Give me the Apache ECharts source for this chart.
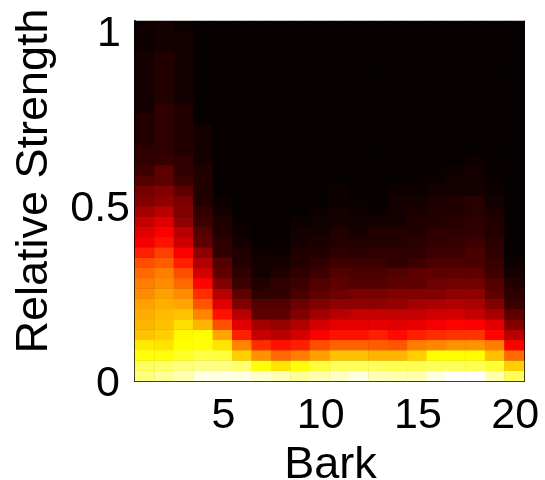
<!DOCTYPE html>
<html><head><meta charset="utf-8">
<style>html,body{margin:0;padding:0;background:#fff}#c{width:545px;height:480px}</style>
<script src="https://cdn.jsdelivr.net/npm/echarts@6/dist/echarts.min.js"></script>
</head><body><div id="c"></div>
<script>
// Each array: hot-colormap intensity for one Bark band, bottom row (strength 0) to top row (strength 1)
const bark1=[.87,.84,.76,.72,.66,.64,.63,.61,.58,.56,.53,.49,.42,.36,.33,.29,.24,.19,.17,.12,.09,.07,.07,.05,.05,.05,.03,.03,.03,.03,.03,.03,.02,.02,.02];
const bark2=[.9,.85,.76,.71,.68,.66,.65,.63,.61,.58,.56,.51,.47,.4,.37,.33,.27,.21,.19,.14,.14,.08,.07,.07,.07,.07,.07,.05,.05,.05,.05,.05,.03,.03,.03];
const bark3=[.92,.87,.79,.75,.74,.7,.66,.62,.58,.53,.49,.42,.37,.3,.27,.21,.19,.18,.14,.09,.07,.07,.05,.05,.05,.05,.05,.03,.03,.03,.03,.03,.03,.03,.015];
const bark4=[.97,.88,.82,.76,.75,.64,.57,.5,.44,.38,.31,.26,.21,.14,.12,.09,.07,.05,.05,.05,.05,.03,.03,.03,.03,.01,.01,.01,.01,.01,.01,.01,.01,.01,.01];
const bark5=[.97,.88,.81,.71,.62,.49,.4,.33,.27,.19,.14,.12,.07,.07,.05,.05,.03,.02,.01,.01,.01,.01,.01,.01,.01,.01,.01,.01,.01,.01,.01,.01,.01,.01,.01];
const bark6=[.97,.86,.68,.57,.42,.33,.27,.19,.14,.09,.07,.05,.05,.03,.02,.015,.01,.01,.01,.01,.01,.01,.01,.01,.01,.01,.01,.01,.01,.01,.01,.01,.01,.01,.01];
const bark7=[.95,.76,.59,.44,.29,.24,.14,.12,.07,.05,.03,.03,.02,.01,.01,.01,.01,.01,.01,.01,.01,.01,.01,.01,.01,.01,.01,.01,.01,.01,.01,.01,.01,.01,.01];
const bark8=[.93,.71,.53,.4,.27,.22,.14,.12,.07,.07,.05,.03,.02,.015,.01,.01,.01,.01,.01,.01,.01,.01,.01,.01,.01,.01,.01,.01,.01,.01,.01,.01,.01,.01,.01];
const bark9=[.9,.76,.56,.42,.31,.26,.19,.16,.11,.09,.07,.05,.05,.03,.03,.02,.01,.01,.01,.01,.01,.01,.01,.01,.01,.01,.01,.01,.01,.01,.01,.01,.01,.01,.01];
const bark10=[.92,.81,.61,.49,.37,.31,.24,.19,.14,.12,.09,.07,.05,.04,.03,.025,.02,.01,.01,.01,.01,.01,.01,.01,.01,.01,.01,.01,.01,.01,.01,.01,.01,.01,.01];
const bark11=[.94,.84,.66,.52,.4,.34,.27,.21,.16,.14,.12,.09,.07,.05,.05,.03,.03,.02,.02,.01,.01,.01,.01,.01,.01,.01,.01,.01,.01,.01,.01,.01,.01,.01,.01];
const bark12=[.97,.84,.66,.52,.4,.34,.29,.21,.18,.12,.11,.09,.06,.05,.03,.025,.02,.015,.01,.01,.01,.01,.01,.01,.01,.01,.01,.01,.01,.01,.01,.01,.01,.01,.01];
const bark13=[.93,.84,.64,.51,.42,.34,.29,.21,.18,.12,.11,.09,.07,.05,.05,.03,.015,.01,.01,.01,.01,.01,.01,.01,.01,.01,.01,.01,.01,.01,.01,.01,.01,.01,.01];
const bark14=[.92,.83,.64,.5,.39,.33,.29,.22,.19,.14,.12,.07,.07,.05,.05,.03,.03,.03,.02,.01,.01,.01,.01,.01,.01,.01,.01,.01,.01,.01,.01,.01,.01,.01,.01];
const bark15=[.92,.83,.68,.56,.42,.34,.29,.24,.19,.14,.14,.09,.07,.06,.05,.05,.04,.03,.02,.015,.01,.01,.01,.01,.01,.01,.01,.01,.01,.01,.01,.01,.01,.01,.01];
const bark16=[.97,.84,.75,.57,.44,.36,.31,.25,.19,.16,.14,.11,.09,.07,.07,.05,.05,.04,.03,.02,.015,.01,.01,.01,.01,.01,.01,.01,.01,.01,.01,.01,.01,.01,.01];
const bark17=[1,.84,.75,.59,.45,.38,.31,.26,.21,.17,.14,.11,.09,.08,.07,.06,.05,.05,.03,.03,.02,.01,.01,.01,.01,.01,.01,.01,.01,.01,.01,.01,.01,.01,.01];
const bark18=[1,.83,.75,.59,.45,.37,.29,.25,.21,.17,.14,.11,.11,.09,.07,.07,.06,.06,.03,.03,.03,.02,.01,.01,.01,.01,.01,.01,.01,.01,.01,.01,.01,.01,.01];
const bark19=[.92,.8,.66,.56,.38,.33,.25,.19,.14,.12,.09,.08,.07,.06,.05,.05,.04,.03,.02,.015,.01,.01,.01,.01,.01,.01,.01,.01,.01,.01,.01,.01,.01,.01,.01];
const bark20=[.84,.68,.53,.37,.27,.19,.14,.09,.07,.05,.03,.02,.01,.01,.01,.01,.01,.01,.01,.01,.01,.01,.01,.01,.01,.01,.01,.01,.01,.01,.01,.01,.01,.01,.01];
const bands=[bark1,bark2,bark3,bark4,bark5,bark6,bark7,bark8,bark9,bark10,bark11,bark12,bark13,bark14,bark15,bark16,bark17,bark18,bark19,bark20];
const barkLabels=['1','2','3','4','5','6','7','8','9','10','11','12','13','14','15','16','17','18','19','20'];
const strengthRows=bark1.map((_,i)=>i===0?'0':i===17?'0.5':i===34?'1':'');
const barkTicks=['5','10','15','20'];
const hot=['#000000','#550000','#aa0000','#ff0000','#ff5500','#ffaa00','#ffff00','#ffff80','#ffffff'];

const data=[];
bands.forEach((col,x)=>col.forEach((v,y)=>data.push([x,y,v])));
const font='"Liberation Sans", Arial, sans-serif';
const chart=echarts.init(document.getElementById('c'),null,{renderer:'canvas'});
const yStyle=(pr)=>({fontFamily:font,fontSize:43,color:'#000',padding:[0,pr,0,0]});
chart.setOption({
  animation:false,
  backgroundColor:'#fff',
  grid:{left:135,top:21,width:389,height:360,containLabel:false,outerBoundsMode:'none',show:true,backgroundColor:'#080000',borderWidth:0},
  visualMap:{show:false,min:0,max:1,dimension:2,seriesIndex:0,inRange:{color:hot}},
  xAxis:{type:'category',data:barkLabels,name:'Bark',nameLocation:'middle',nameGap:62,
    nameTextStyle:{fontFamily:font,fontSize:45,color:'#000',padding:[0,0,0,2]},
    axisLine:{show:true,onZero:false,lineStyle:{color:'#000',width:2}},
    axisTick:{show:true,inside:true,length:5,alignWithLabel:true,lineStyle:{color:'#000',width:1},interval:(i,v)=>barkTicks.includes(v)},
    axisLabel:{show:true,fontFamily:font,fontSize:43,color:'#000',margin:14,padding:[0,0,0,2],interval:(i,v)=>barkTicks.includes(v)},
    splitLine:{show:false}},
  yAxis:[{type:'category',data:strengthRows,name:'Relative Strength',nameLocation:'middle',nameGap:78,nameMoveOverlap:false,
    nameTextStyle:{fontFamily:font,fontSize:45,color:'#000',padding:[0,0,0,40]},
    axisLine:{show:true,onZero:false,lineStyle:{color:'#000',width:2}},
    axisTick:{show:true,inside:true,length:4,alignWithLabel:true,lineStyle:{color:'#000',width:1},interval:(i,v)=>v!==''},
    axisLabel:{show:true,margin:5,verticalAlign:'top',lineHeight:16,interval:(i,v)=>v!=='',
      formatter:(v)=>v==='0'?'{z|0}':v==='1'?'{o|1}':'{h|0.5}',
      rich:{z:yStyle(10),o:yStyle(9),h:yStyle(0)}},
    splitLine:{show:false}},
   {type:'category',position:'right',data:strengthRows,
    axisLine:{show:true,onZero:false,lineStyle:{color:'#000',width:1}},
    axisTick:{show:true,inside:true,length:4,alignWithLabel:true,lineStyle:{color:'#000',width:1},interval:(i,v)=>v!==''},
    axisLabel:{show:false},splitLine:{show:false}}],
  series:[{type:'heatmap',data:data,progressive:0,emphasis:{disabled:true},itemStyle:{borderWidth:0}}]
});
</script></body></html>
